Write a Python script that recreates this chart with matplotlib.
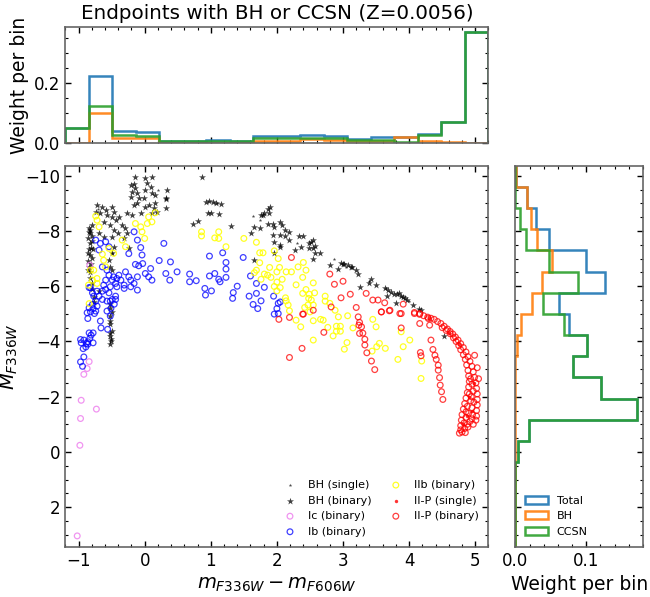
import numpy as np
import matplotlib
matplotlib.use("Agg")
import matplotlib.pyplot as plt
from matplotlib.ticker import AutoMinorLocator, MultipleLocator

# ---------------- data ----------------
bh_single = [(1.64, -8.54), (2.86, -6.98), (1.74, -8.40), (3.65, -5.95), (2.30, -7.55),
             (3.05, -6.70), (0.20, -9.50), (-0.70, -8.80), (-0.50, -7.20), (4.00, -5.45),
             (1.10, -9.00), (3.40, -6.20)]

bh_binary = [
    (-0.84, -8.10), (-0.83, -7.92), (-0.85, -7.74), (-0.82, -7.55), (-0.84, -7.33), (-0.83, -7.12),
    (-0.85, -6.93), (-0.84, -6.71), (-0.82, -6.52), (-0.80, -7.62), (-0.81, -7.40), (-0.86, -7.20),
    (-0.80, -7.02), (-0.81, -6.82), (-0.82, -8.02), (-0.80, -7.83), (-0.79, -8.21), (-0.83, -6.30),
    (-0.80, -6.12), (-0.79, -5.90), (-0.77, -5.62), (-0.76, -5.42), (-0.78, -7.35), (-0.85, -6.60),
    (-0.84, -7.97),
    (-0.72, -8.94), (-0.64, -8.88), (-0.59, -8.76), (-0.57, -8.58), (-0.67, -8.64), (-0.74, -8.70),
    (-0.62, -8.33), (-0.69, -7.91), (-0.62, -7.79), (-0.49, -8.88), (-0.47, -8.70), (-0.49, -8.51),
    (-0.44, -8.39), (-0.52, -8.21), (-0.47, -8.03), (-0.49, -7.79), (-0.47, -7.43), (-0.49, -7.19),
    (-0.54, -6.94), (-0.52, -6.70), (-0.49, -6.58), (-0.69, -5.82),
    (-0.52, -5.37), (-0.52, -5.22), (-0.52, -4.92), (-0.52, -4.62), (-0.50, -4.38), (-0.52, -4.20),
    (-0.51, -4.00), (-0.52, -3.90), (-0.51, -4.10), (-0.52, -4.30), (-0.53, -4.75), (-0.50, -5.05),
    (-0.39, -8.51), (-0.34, -8.21), (-0.26, -8.64), (-0.29, -8.09), (-0.26, -7.91), (-0.19, -8.58),
    (-0.31, -7.73), (-0.24, -7.37), (-0.41, -7.91),
    (-0.21, -9.66), (-0.16, -9.70), (-0.14, -9.54), (-0.19, -9.42), (-0.11, -9.36), (-0.21, -9.24),
    (-0.09, -9.18), (0.00, -9.90), (0.11, -9.97), (0.04, -9.72), (0.09, -9.60), (0.01, -9.48),
    (0.11, -9.36), (0.16, -9.30), (0.32, -9.18), (0.34, -9.48), (-0.01, -9.18), (-0.16, -8.94),
    (-0.11, -9.00), (0.01, -8.88), (0.06, -8.94), (0.14, -8.82), (0.16, -9.00), (-0.06, -8.64),
    (0.11, -8.64), (0.19, -8.70), (0.32, -8.82), (-0.14, -9.97), (0.33, -9.14),
    (0.87, -9.94), (0.93, -9.06), (0.98, -9.09), (1.03, -9.06), (1.08, -9.00), (1.15, -8.97),
    (0.96, -8.64), (1.01, -8.64), (1.12, -8.60), (0.73, -8.27), (0.81, -8.37), (1.31, -8.18),
    (1.66, -6.94), (1.76, -8.57), (1.81, -8.64), (1.86, -8.78), (1.89, -8.88), (1.88, -8.64),
    (1.94, -8.27), (1.66, -8.13), (1.61, -7.94),
    (1.79, -8.58), (1.86, -8.27), (1.96, -8.15), (2.04, -8.33), (2.12, -8.03), (2.19, -7.97),
    (1.94, -7.85), (2.04, -7.85), (2.19, -7.67), (2.34, -7.82), (2.39, -7.82), (2.27, -7.31),
    (2.37, -7.43), (2.52, -7.61), (2.54, -7.37), (2.49, -7.37), (2.57, -7.19), (2.65, -7.19),
    (2.54, -7.00), (1.96, -7.59), (2.04, -7.43), (2.49, -7.55), (2.55, -7.67), (2.80, -6.76),
    (2.92, -6.64), (3.00, -6.80), (3.07, -6.76), (3.12, -6.70), (3.20, -6.58), (3.23, -6.46),
    (3.25, -5.96), (3.43, -6.25), (3.40, -6.10), (3.50, -6.04), (3.63, -5.92), (3.73, -5.80),
    (3.81, -5.71), (3.87, -5.64), (3.93, -5.56), (3.80, -5.38), (3.66, -5.64), (4.06, -5.32),
    (4.15, -5.19), (4.18, -5.15), (4.52, -4.19), (2.97, -6.85), (3.02, -6.80), (3.14, -6.68),
    (2.04, -7.49), (1.96, -7.19), (1.74, -8.09), (2.08, -8.20), (2.13, -7.80), (2.58, -7.45),
    (3.68, -5.85), (3.77, -5.70), (3.84, -5.75), (3.90, -5.60), (3.97, -5.50)]

ic_binary = [(-1.02, 3.04), (-0.98, -0.24), (-0.97, -1.21), (-0.96, -1.87), (-0.73, -1.55),
             (-0.84, -3.27), (-0.87, -3.02), (-0.92, -2.81), (-0.83, -6.76)]

ib_binary = [
    (-0.97, -3.26), (-0.94, -3.10), (-0.93, -3.74), (-0.92, -3.44), (-0.89, -3.80), (-0.96, -3.95),
    (-0.97, -4.07), (-0.92, -4.05), (-0.86, -3.99), (-0.83, -4.11), (-0.81, -4.23), (-0.78, -3.95),
    (-0.84, -4.31), (-0.78, -4.31), (-0.88, -3.93), (-0.86, -3.90),
    (-0.86, -4.83), (-0.82, -5.07), (-0.78, -5.19), (-0.76, -5.01), (-0.66, -4.49), (-0.56, -4.44),
    (-0.52, -4.92), (-0.51, -5.20), (-0.46, -5.35),
    (-0.74, -7.67), (-0.67, -7.55), (-0.59, -7.61), (-0.69, -7.31), (-0.54, -7.43),
    (-0.64, -6.70), (-0.57, -6.58), (-0.54, -6.40), (-0.49, -6.22), (-0.44, -6.10), (-0.42, -5.98),
    (-0.59, -6.22), (-0.62, -6.04), (-0.52, -5.98), (-0.47, -6.34), (-0.39, -6.40), (-0.36, -6.22),
    (-0.31, -6.04), (-0.29, -6.52), (-0.24, -6.34), (-0.21, -5.98), (-0.31, -5.92), (-0.42, -6.28),
    (-0.84, -5.95), (-0.82, -5.95), (-0.79, -5.76), (-0.77, -5.64), (-0.72, -5.82), (-0.69, -5.64),
    (-0.64, -5.82), (-0.59, -5.88), (-0.54, -5.76), (-0.74, -5.46), (-0.79, -5.34), (-0.72, -5.28),
    (-0.64, -5.52), (-0.57, -5.46), (-0.49, -5.52), (-0.44, -5.64), (-0.44, -5.52), (-0.84, -5.22),
    (-0.87, -5.04), (-0.74, -5.10), (-0.57, -5.10), (-0.52, -5.46), (-0.67, -4.74),
    (-0.16, -7.97), (-0.11, -7.67), (-0.06, -7.40), (-0.24, -7.18), (-0.04, -7.13), (-0.14, -6.79),
    (-0.09, -6.74), (-0.03, -6.82), (0.09, -6.64), (0.01, -6.46), (0.06, -6.34), (0.11, -6.22),
    (-0.11, -6.34), (-0.21, -6.22), (-0.16, -6.10), (-0.11, -5.86), (0.22, -6.93), (0.29, -7.55),
    (0.39, -6.88), (0.49, -6.52), (0.32, -6.46), (0.38, -6.22),
    (0.98, -7.09), (1.18, -7.21), (1.23, -6.86), (1.23, -6.62), (1.23, -6.32), (1.06, -6.46),
    (0.98, -6.37), (0.78, -6.20), (0.68, -6.44), (0.68, -6.16), (0.91, -5.92), (0.92, -5.68),
    (1.01, -5.83), (1.12, -6.25), (1.14, -6.16), (1.34, -5.77), (1.33, -5.56), (1.40, -6.00),
    (1.49, -7.04), (1.60, -6.37), (1.58, -5.64), (1.64, -5.34), (1.71, -5.19), (1.69, -6.10),
    (1.69, -5.74), (1.76, -5.47), (1.81, -5.96), (1.95, -5.64), (1.96, -4.99), (2.00, -5.19),
    (2.02, -5.38), (2.05, -5.43), (2.02, -5.01)]

iib_binary = [
    (-0.74, -8.54), (-0.72, -8.39), (-0.69, -8.15), (-0.14, -8.27), (-0.06, -8.15), (-0.04, -7.97),
    (0.00, -7.73), (0.04, -8.27), (0.11, -8.33), (0.06, -8.51), (0.16, -8.66), (-0.34, -7.67),
    (-0.29, -7.43), (-0.54, -7.37), (-0.47, -7.19), (-0.64, -7.16), (-0.62, -6.94), (-0.59, -6.70),
    (-0.82, -6.58), (-0.77, -6.58), (-0.72, -6.28), (-0.72, -6.10), (-0.79, -6.22), (-0.85, -6.04),
    (-0.84, -5.37),
    (0.86, -7.97), (0.86, -7.82), (1.06, -7.75), (1.12, -7.97), (1.12, -7.73), (1.23, -7.43),
    (1.50, -7.73), (1.69, -7.59), (1.74, -7.21), (1.79, -7.21), (1.74, -6.85), (1.66, -6.49),
    (1.69, -6.58), (1.76, -6.25), (1.89, -6.68), (1.96, -7.28), (2.02, -7.00), (2.04, -6.68),
    (2.08, -6.25), (2.00, -6.15), (2.05, -5.95), (1.96, -5.99), (2.00, -5.83), (2.00, -6.52),
    (1.86, -6.40), (1.81, -6.44), (1.91, -6.32), (2.14, -6.52), (2.22, -6.52), (2.32, -6.70),
    (2.40, -6.86), (2.44, -6.58), (2.39, -6.32), (2.29, -6.05), (2.44, -5.88), (2.39, -5.74),
    (2.49, -5.71), (2.48, -5.56), (2.52, -5.50), (2.47, -5.32), (2.55, -5.32), (2.57, -5.76),
    (2.55, -6.12), (2.42, -5.23), (2.50, -5.07), (2.13, -5.58), (2.14, -5.47), (2.17, -5.32),
    (2.19, -5.11), (2.29, -4.77), (2.36, -4.53), (2.55, -4.75), (2.66, -4.80), (2.70, -4.77),
    (2.73, -5.64), (2.73, -5.46), (2.80, -5.38), (2.88, -5.13), (2.93, -4.89), (3.07, -4.93),
    (2.90, -4.55), (2.96, -4.55), (2.90, -4.37), (2.85, -4.20), (2.96, -4.37), (2.77, -4.51),
    (3.15, -4.49), (3.06, -3.96), (3.02, -3.72), (2.55, -4.05),
    (3.45, -4.80), (3.50, -4.53), (3.55, -3.93), (3.51, -3.81), (3.64, -3.75), (3.44, -3.65),
    (3.83, -3.35), (3.91, -3.81), (3.88, -4.35), (4.01, -4.05), (4.19, -3.29), (4.18, -2.66)]

iip_single = [(4.60, -4.30), (4.90, -2.00), (4.95, -1.50), (4.82, -1.00), (4.75, -3.90),
              (4.98, -2.50), (4.30, -4.85), (4.88, -1.30)]

iip_binary = [
    (4.08, -5.05), (4.16, -4.98), (4.22, -4.93), (4.28, -4.88), (4.33, -4.84), (4.38, -4.80),
    (4.43, -4.72), (4.48, -4.65), (4.53, -4.55), (4.58, -4.45), (4.62, -4.36), (4.66, -4.27),
    (4.70, -4.16), (4.74, -4.05), (4.78, -3.92), (4.82, -3.78), (4.86, -3.62), (4.89, -3.45),
    (4.92, -3.28), (4.95, -3.10), (4.97, -2.90), (4.99, -2.70), (5.01, -2.50), (5.02, -2.30),
    (5.03, -2.10), (5.03, -1.90), (5.03, -1.70), (5.02, -1.50), (5.02, -1.30), (5.01, -1.15),
    (4.50, -4.50), (4.56, -4.40), (4.62, -4.28), (4.67, -4.13), (4.71, -4.00), (4.75, -3.85),
    (4.78, -3.70), (4.82, -3.52), (4.85, -3.35), (4.87, -3.15), (4.89, -2.95), (4.90, -2.75),
    (4.91, -2.55), (4.90, -2.35), (4.88, -2.15), (4.86, -1.95), (4.84, -1.75), (4.82, -1.55),
    (4.80, -1.35), (4.79, -1.15), (4.78, -0.95), (4.78, -0.80), (4.76, -0.68), (4.80, -0.72),
    (4.84, -0.85), (4.88, -1.00), (4.92, -1.10), (4.95, -1.20), (4.90, -1.40), (4.95, -1.60),
    (4.98, -1.80), (4.94, -2.00), (4.97, -2.20), (4.95, -2.45), (4.93, -2.65), (4.96, -1.35),
    (4.86, -1.25), (4.83, -1.05), (4.85, -0.70), (4.89, -0.90), (4.99, -3.50), (5.03, -3.05),
    (5.05, -2.65), (4.93, -1.85), (4.88, -1.65), (4.91, -2.10), (4.86, -1.45), (4.97, -1.00),
    (4.08, -5.01), (4.16, -5.01), (4.29, -4.83), (4.16, -4.65), (4.31, -4.59), (3.88, -5.01),
    (3.91, -5.35), (3.71, -5.13), (3.58, -5.07),
    (2.22, -7.04), (2.80, -6.44), (2.87, -6.07), (3.00, -6.18), (3.11, -5.71), (2.97, -5.58),
    (2.82, -5.25), (3.20, -5.23), (3.23, -4.89), (3.25, -4.69), (3.28, -4.53), (3.30, -4.30),
    (3.33, -4.08), (3.33, -3.87), (3.36, -3.59), (3.43, -3.29), (3.48, -2.98), (3.35, -5.74),
    (3.45, -5.50), (3.53, -5.50), (3.58, -5.07), (3.63, -5.40), (3.70, -5.11), (3.86, -5.01),
    (3.88, -4.49), (4.18, -3.48), (4.33, -4.05), (4.36, -3.71), (4.39, -3.50), (4.41, -3.35),
    (4.44, -3.14), (4.44, -2.96), (4.46, -2.69), (4.47, -2.42), (4.49, -2.18), (4.51, -1.90),
    (4.17, -3.60), (2.38, -3.75), (2.19, -3.42), (2.39, -4.99), (2.19, -4.87), (2.03, -4.80),
    (2.55, -5.13), (2.40, -4.99), (2.71, -4.33), (3.24, -4.59), (3.25, -4.29)]

# top histogram (colour), 18 bins over the colour range
color_range = (-1.2, 5.2)
top_total = [0.050, 0.224, 0.041, 0.036, 0.007, 0.009, 0.011, 0.007, 0.024,
             0.024, 0.029, 0.023, 0.014, 0.021, 0.022, 0.032, 0.070, 0.370]
top_bh = [0.000, 0.100, 0.016, 0.018, 0.002, 0.002, 0.002, 0.001, 0.009,
          0.009, 0.013, 0.010, 0.006, 0.008, 0.020, 0.009, 0.004, 0.000]
top_ccsn = [0.050, 0.124, 0.028, 0.024, 0.006, 0.008, 0.009, 0.006, 0.019,
            0.019, 0.018, 0.018, 0.011, 0.012, 0.004, 0.027, 0.070, 0.370]

# right histogram (magnitude), 18 bins over the magnitude range (bright -> faint)
mag_range = (-10.36, 3.43)
right_total = [0.001, 0.016, 0.029, 0.047, 0.099, 0.127, 0.062, 0.076, 0.101,
               0.082, 0.121, 0.172, 0.019, 0.004, 0.0, 0.0, 0.0, 0.0]
right_bh = [0.001, 0.016, 0.022, 0.031, 0.051, 0.038, 0.023, 0.0075, 0.0015,
            0.0, 0.0, 0.0, 0.0, 0.0, 0.0, 0.0, 0.0, 0.0]
right_ccsn = [0.0, 0.0, 0.006, 0.015, 0.047, 0.088, 0.039, 0.068, 0.101,
              0.082, 0.121, 0.172, 0.019, 0.004, 0.0, 0.0, 0.0, 0.0]

# ---------------- figure ----------------
plt.rcParams['font.family'] = ['DejaVu Sans']
fig = plt.figure(figsize=(6.5, 5.97), dpi=100)
ax = fig.add_axes([0.1005, 0.0843, 0.651, 0.638])
axt = fig.add_axes([0.1005, 0.760, 0.651, 0.195], sharex=ax)
axr = fig.add_axes([0.793, 0.0843, 0.196, 0.638], sharey=ax)


def xy(pts):
    a = np.array(pts)
    return a[:, 0], a[:, 1]


x, y = xy(bh_single)
ax.scatter(x, y, marker='*', s=7, c='k', alpha=0.7, lw=0, label='BH (single)')
x, y = xy(bh_binary)
ax.scatter(x, y, marker='*', s=28, c='k', alpha=0.75, lw=0, label='BH (binary)')
x, y = xy(ic_binary)
ax.scatter(x, y, marker='o', s=17, facecolors='none', edgecolors='violet', lw=0.9, alpha=0.85, label='Ic (binary)')
x, y = xy(ib_binary)
ax.scatter(x, y, marker='o', s=17, facecolors='none', edgecolors='blue', lw=0.9, alpha=0.75, label='Ib (binary)')
x, y = xy(iib_binary)
ax.scatter(x, y, marker='o', s=17, facecolors='none', edgecolors='yellow', lw=0.9, alpha=0.85, label='IIb (binary)')
x, y = xy(iip_single)
ax.scatter(x, y, marker='o', s=6, c='red', lw=0, alpha=0.8, label='II-P (single)')
x, y = xy(iip_binary)
ax.scatter(x, y, marker='o', s=17, facecolors='none', edgecolors='red', lw=0.9, alpha=0.75, label='II-P (binary)')

ax.set_xlim(*color_range)
ax.set_ylim(mag_range[1], mag_range[0])
ax.set_xlabel(r'$m_{F336W} - m_{F606W}$', fontsize=14)
ax.set_ylabel(r'$M_{F336W}$', fontsize=14)
ax.xaxis.set_major_locator(MultipleLocator(1))
ax.yaxis.set_major_locator(MultipleLocator(2))
ax.legend(loc='lower right', ncol=2, frameon=False, fontsize=8,
          handletextpad=0.6, columnspacing=1.2, labelspacing=0.5)

# top histogram
edges_t = np.linspace(color_range[0], color_range[1], len(top_total) + 1)
cent_t = 0.5 * (edges_t[:-1] + edges_t[1:])
for vals, col, lab in [(top_total, 'C0', 'Total'), (top_bh, 'C1', 'BH'), (top_ccsn, 'C2', 'CCSN')]:
    axt.hist(cent_t, bins=edges_t, weights=vals, histtype='step', color=col, lw=1.8, alpha=0.9, label=lab)
axt.set_ylim(0, 0.388)
axt.set_ylabel('Weight per bin', fontsize=13.5)
axt.set_title('Endpoints with BH or CCSN (Z=0.0056)', fontsize=14.3)
axt.yaxis.set_major_locator(MultipleLocator(0.2))
axt.tick_params(labelbottom=False)

# right histogram
edges_r = np.linspace(mag_range[0], mag_range[1], len(right_total) + 1)
cent_r = 0.5 * (edges_r[:-1] + edges_r[1:])
for vals, col, lab in [(right_total, 'C0', 'Total'), (right_bh, 'C1', 'BH'), (right_ccsn, 'C2', 'CCSN')]:
    axr.hist(cent_r, bins=edges_r, weights=vals, histtype='step', orientation='horizontal',
             color=col, lw=1.8, alpha=0.9, label=lab)
axr.set_xlim(0, 0.18)
axr.set_xlabel('Weight per bin', fontsize=13.5)
axr.xaxis.set_major_locator(MultipleLocator(0.1))
axr.tick_params(labelleft=False)
axr.legend(loc='lower left', frameon=False, fontsize=8, handlelength=2.0)

for a in (ax, axt, axr):
    a.xaxis.set_minor_locator(AutoMinorLocator())
    a.yaxis.set_minor_locator(AutoMinorLocator())
    a.tick_params(which='both', direction='in', top=True, right=True, labelsize=12)
    a.tick_params(which='major', length=4, width=1)
    a.tick_params(which='minor', length=2, width=0.8)
    for s in a.spines.values():
        s.set_edgecolor('0.4')
        s.set_linewidth(1.2)
axt.tick_params(labelbottom=False)
axr.tick_params(labelleft=False)

fig.savefig('out.png', dpi=100)
